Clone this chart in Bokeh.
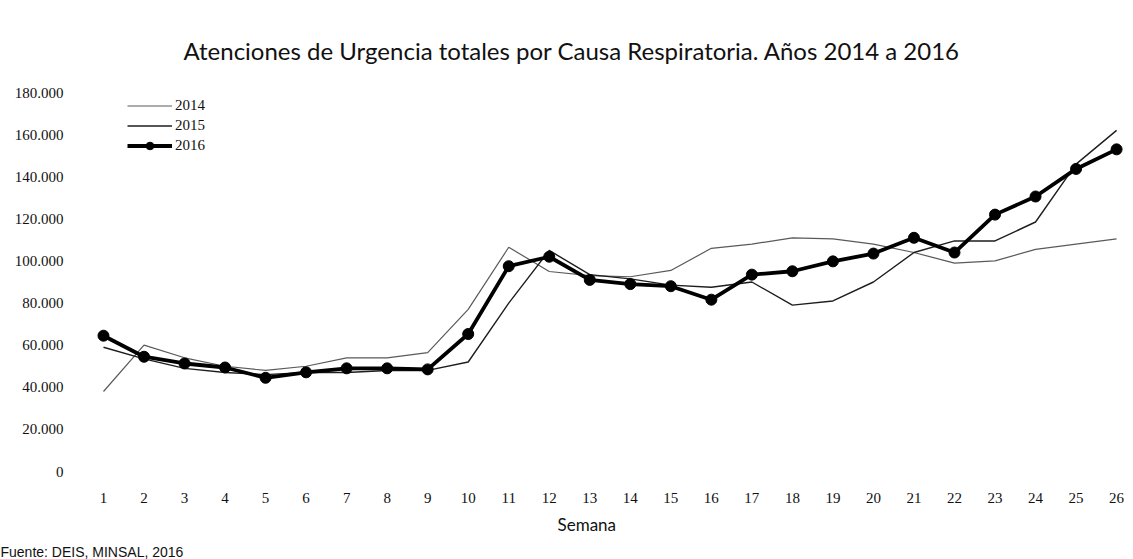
from bokeh.plotting import figure
from bokeh.models import FixedTicker, Legend, Title
from bokeh.embed import file_html
from bokeh.resources import INLINE

# ---- data ----
weeks = list(range(1, 27))
y2014 = [38000, 60000, 54000, 50000, 48000, 50000, 54000, 54000, 56500, 77000,
         106500, 95000, 93000, 92500, 95500, 106000, 108000, 111000, 110500, 108000,
         104000, 99000, 100000, 105500, 108000, 110500]
y2015 = [59000, 53500, 49000, 47000, 46000, 47000, 47000, 48000, 48000, 52000,
         80000, 105000, 93500, 91500, 88500, 87500, 90000, 79000, 81000, 90000,
         104000, 109500, 109500, 118500, 146000, 162000]
y2016 = [64500, 54500, 51300, 49400, 44500, 47100, 49000, 49000, 48500, 65300,
         97500, 102000, 91000, 89000, 88000, 81600, 93500, 95100, 99800, 103500,
         111000, 104000, 122000, 130600, 143700, 153000]
y_ticks = [0, 20000, 40000, 60000, 80000, 100000, 120000, 140000, 160000, 180000]
y_tick_labels = ["0", "20.000", "40.000", "60.000", "80.000", "100.000",
                 "120.000", "140.000", "160.000", "180.000"]
title_text = "Atenciones de Urgencia totales por Causa Respiratoria. Años 2014 a 2016"
x_label = "Semana"
source_text = "Fuente: DEIS, MINSAL, 2016"

p = figure(width=1125, height=559, output_backend="svg", toolbar_location=None,
           x_range=(0.556, 26.22), y_range=(0, 180000),
           min_border_left=85, min_border_right=0, min_border_top=92, min_border_bottom=0)

p.outline_line_color = None
p.xgrid.grid_line_color = None
p.ygrid.grid_line_color = None
p.background_fill_color = "white"

# title
p.title.text = title_text
p.title.align = "left"
p.title.offset = 98
p.title.text_font = "Lato"
p.title.text_font_size = "24px"
p.title.text_font_style = "normal"
p.title.text_color = "#111111"
p.title.standoff = 55

# lines
r14 = p.line(weeks, y2014, line_color="#5a5a5a", line_width=1.2)
r15 = p.line(weeks, y2015, line_color="#1e1e1e", line_width=1.4)
r16 = p.line(weeks, y2016, line_color="#000000", line_width=3.8)
r16m = p.scatter(weeks, y2016, size=11, fill_color="#000000", line_color="#000000")

legend = Legend(items=[("2014", [r14]), ("2015", [r15]), ("2016", [r16, r16m])],
                location=(42, 316), orientation="vertical",
                background_fill_alpha=0, border_line_color=None,
                label_text_font="Liberation Serif", label_text_font_size="15px",
                label_text_color="#111111",
                glyph_width=45, glyph_height=19, label_height=19, label_standoff=3,
                spacing=1, padding=0, margin=0)
p.add_layout(legend)

# y axis
p.yaxis.ticker = FixedTicker(ticks=y_ticks)
p.yaxis.major_label_overrides = {t: l for t, l in zip(y_ticks, y_tick_labels)}
p.yaxis.axis_line_color = None
p.yaxis.major_tick_line_color = None
p.yaxis.minor_tick_line_color = None
p.yaxis.major_label_standoff = 16
p.yaxis.major_label_text_font = "Liberation Serif"
p.yaxis.major_label_text_font_size = "15px"
p.yaxis.major_label_text_color = "#111111"

# x axis
p.xaxis.ticker = FixedTicker(ticks=weeks)
p.xaxis.axis_line_color = None
p.xaxis.major_tick_line_color = None
p.xaxis.minor_tick_line_color = None
p.xaxis.major_label_standoff = 15
p.xaxis.major_label_text_font = "Liberation Serif"
p.xaxis.major_label_text_font_size = "15px"
p.xaxis.major_label_text_color = "#111111"

semana = Title(text=x_label, align="left", offset=472, standoff=13,
               text_font="Lato", text_font_size="17px", text_font_style="normal",
               text_color="#111111")
p.add_layout(semana, "below")

src = Title(text=source_text, align="left", offset=-85, standoff=0,
            text_font="Liberation Sans", text_font_size="14px", text_font_style="normal",
            text_color="#111111")
p.add_layout(src, "below")

open("out.html", "w").write(file_html(p, INLINE))
